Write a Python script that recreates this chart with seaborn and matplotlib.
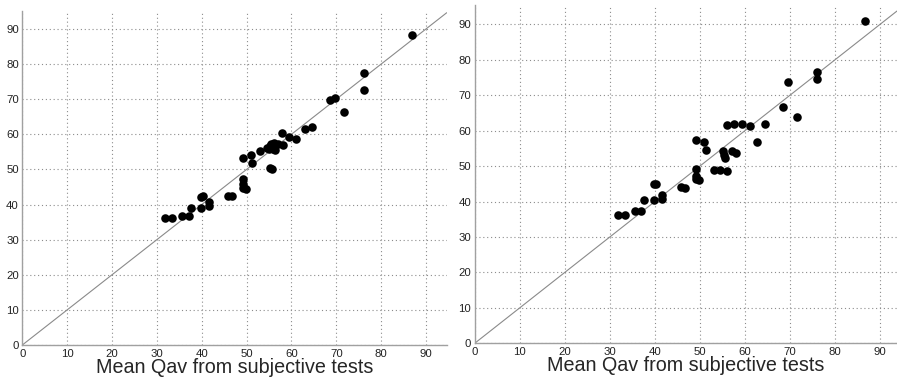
import matplotlib
matplotlib.use("Agg")
import matplotlib.pyplot as plt
import seaborn as sns
import pandas as pd
import numpy as np

sns.set_style("white")
plt.rcParams['font.family'] = ['Liberation Sans', 'DejaVu Sans']

# Left panel data
x_left = [31.8, 33.4, 35.7, 37.1, 37.7, 39.9, 39.9, 40.3, 41.5, 41.6, 45.8, 46.8,
          49.2, 49.3, 49.3, 49.9, 49.1, 51.0, 51.3, 53.0, 54.5, 55.2, 55.3, 55.7,
          55.4, 55.9, 56.1, 57.0, 57.8, 58.0, 59.5, 61.1, 62.9, 64.5, 68.5, 69.8,
          71.7, 76.2, 76.2, 86.9, 56.3, 54.9]
y_left = [36.1, 36.1, 36.8, 36.8, 38.9, 39.1, 42.1, 42.3, 40.6, 39.7, 42.5, 42.3,
          47.3, 45.9, 44.6, 44.3, 53.1, 54.0, 51.8, 55.2, 56.1, 56.7, 50.5, 50.1,
          57.2, 55.8, 57.6, 57.3, 60.3, 56.8, 59.2, 58.6, 61.6, 62.1, 69.8, 70.3,
          66.2, 77.4, 72.6, 88.4, 55.6, 55.9]

# Right panel data
x_right = [31.8, 33.4, 35.7, 37.0, 37.7, 39.9, 39.8, 40.3, 41.5, 41.5, 45.8, 46.8,
           49.1, 49.1, 49.2, 49.2, 49.8, 50.9, 51.3, 53.1, 54.4, 56.0, 56.0, 55.2,
           55.4, 55.7, 57.1, 58.0, 57.7, 59.4, 61.1, 62.8, 64.5, 68.5, 69.7, 71.6,
           76.1, 76.0, 86.8]
y_right = [36.2, 36.2, 37.3, 37.3, 40.5, 40.5, 44.9, 44.9, 41.9, 40.7, 44.1, 43.8,
           57.3, 49.2, 47.3, 46.4, 46.0, 56.7, 54.5, 49.0, 49.0, 61.5, 48.6, 54.3,
           53.1, 52.4, 54.3, 53.7, 61.8, 61.9, 61.2, 56.7, 61.9, 66.7, 73.7, 64.0,
           76.5, 74.7, 90.9]

ticks = [0, 10, 20, 30, 40, 50, 60, 70, 80, 90]
xlabel = "Mean Qav from subjective tests"

fig = plt.figure(figsize=(8.97, 3.84), dpi=100)
ax1 = fig.add_axes([0.0249, 0.1016, 0.4731, 0.8698])
ax2 = fig.add_axes([0.5292, 0.1060, 0.4708, 0.8810])

panels = [(ax1, x_left, y_left, 94.6, 95.1), (ax2, x_right, y_right, 93.8, 95.5)]
for ax, xs, ys, xm, ym in panels:
    df = pd.DataFrame({"x": xs, "y": ys})
    m = min(xm, ym)
    ax.plot([0, m], [0, m], color="#8a8a8a", lw=0.8, ls="-", zorder=2)
    sns.scatterplot(data=df, x="x", y="y", ax=ax, color="black", s=38,
                    edgecolor="black", linewidth=0, zorder=3)
    ax.set_xlim(0, xm)
    ax.set_ylim(0, ym)
    ax.set_xticks(ticks)
    ax.set_yticks(ticks)
    ax.grid(True, color="#8c8c8c", ls=(0, (1, 2.5)), lw=0.8)
    ax.set_axisbelow(True)
    for s in ["top", "right"]:
        ax.spines[s].set_visible(False)
    for s in ["left", "bottom"]:
        ax.spines[s].set_color("#a0a0a0")
        ax.spines[s].set_linewidth(1.0)
    ax.tick_params(axis="both", direction="in", length=3, color="#a0a0a0",
                   labelsize=8.2, labelcolor="#222222")
    ax.tick_params(axis="x", pad=3)
    ax.tick_params(axis="y", pad=2.5)
    ax.set_xlabel(xlabel, fontsize=14.2, labelpad=-1)
    ax.set_ylabel("")

fig.savefig("out.png", dpi=100)
